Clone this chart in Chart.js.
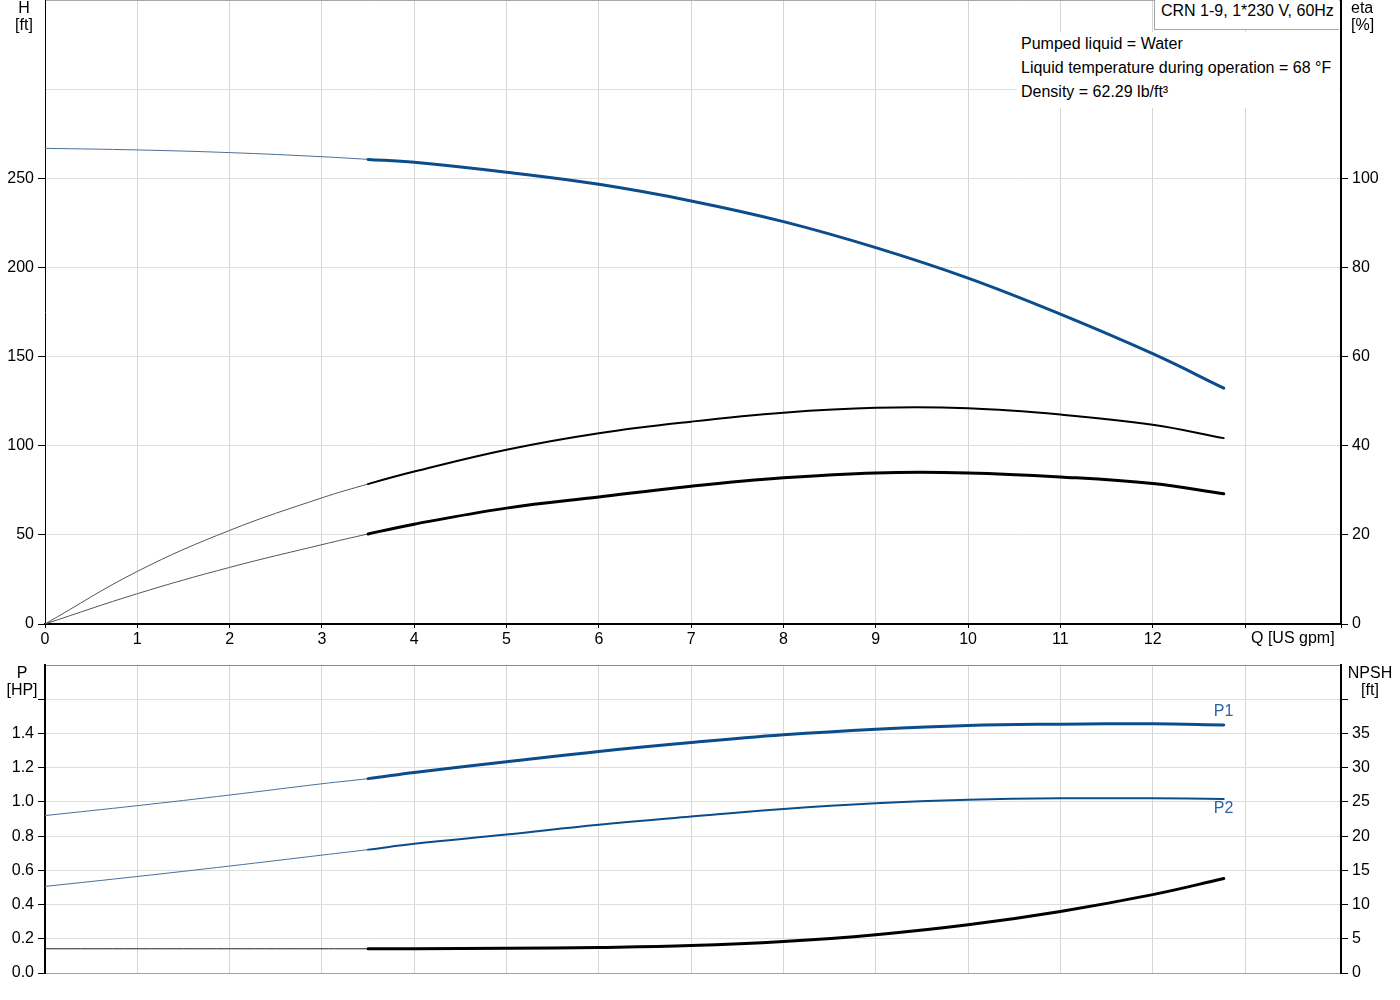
<!DOCTYPE html>
<html>
<head>
<meta charset="utf-8">
<script src="https://cdn.jsdelivr.net/npm/chart.js@4.4.1/dist/chart.umd.min.js"></script>
<style>
  html, body { margin: 0; padding: 0; background: #fff; }
  body { width: 1400px; height: 1000px; overflow: hidden; position: relative;
         font-family: "Liberation Sans", Arial, sans-serif; font-size: 16px; color: #000; }
  canvas { position: absolute; left: 0; }
  #topChart { top: 0; }
  #botChart { top: 660px; }
  .lbl { position: absolute; line-height: 17px; white-space: nowrap; }
  #info { position: absolute; left: 1017px; top: 32px; width: 318px; height: 76px;
          background: #fff; padding-left: 4px; line-height: 24px; white-space: nowrap; }
  #title { position: absolute; left: 1154px; top: 0; width: 178px; height: 19px;
           border: 1px solid #a6a6a6; border-top: none; border-right: none; background: #fff;
           padding: 2px 0 8px 6px; line-height: 18px; white-space: nowrap; }
</style>
</head>
<body>
<canvas id="topChart" width="1400" height="660"></canvas>
<canvas id="botChart" width="1400" height="340"></canvas>

<div id="info">Pumped liquid = Water<br>Liquid temperature during operation = 68 °F<br>Density = 62.29 lb/ft³</div>
<div id="title">CRN 1-9, 1*230 V, 60Hz</div>

<div class="lbl" style="left:0;width:48px;top:-1px;text-align:center">H<br>[ft]</div>
<div class="lbl" style="left:1351px;top:-1px">eta<br>[%]</div>
<div class="lbl" style="left:0;width:44px;top:664px;text-align:center">P<br>[HP]</div>
<div class="lbl" style="left:1341px;width:58px;top:664px;text-align:center">NPSH<br>[ft]</div>
<div class="lbl" id="qLabel" style="top:629px">Q [US gpm]</div>
<div class="lbl" id="p1Label" style="color:#2a64a6">P1</div>
<div class="lbl" id="p2Label" style="color:#2a64a6">P2</div>

<script>
// ---------------- data ----------------
const Q          = [0, 1, 2, 3, 3.5, 4, 5, 6, 7, 8, 9, 10, 11, 12, 12.77];      // US gpm
const H          = [266.8, 265.9, 264.4, 262.1, 260.6, 259.0, 253.4, 246.6, 237.3, 225.7, 211.1, 194.0, 173.8, 151.6, 132.3]; // ft
const ETA_PUMP   = [0, 11.8, 21.0, 28.3, 31.4, 34.2, 39.1, 42.8, 45.4, 47.4, 48.5, 48.4, 47.0, 44.7, 41.7];   // %
const ETA_TOTAL  = [0, 6.8, 12.7, 17.8, 20.2, 22.4, 26.0, 28.5, 30.9, 32.8, 33.9, 33.9, 33.0, 31.5, 29.2];    // %
const P1         = [0.920, 0.978, 1.040, 1.106, 1.136, 1.172, 1.234, 1.295, 1.347, 1.392, 1.425, 1.447, 1.454, 1.456, 1.450]; // HP
const P2         = [0.506, 0.564, 0.625, 0.689, 0.721, 0.755, 0.809, 0.866, 0.914, 0.959, 0.992, 1.012, 1.021, 1.021, 1.017]; // HP
const NPSH       = [3.54, 3.54, 3.54, 3.54, 3.54, 3.55, 3.60, 3.73, 4.00, 4.60, 5.60, 7.05, 9.00, 11.45, 13.80]; // ft
const DUTY_START = 3.5;   // curves are drawn thick from here on

const Q_MAX = 14.04, Q_LABEL_MAX = 12, Q_TITLE_TICK = 13;
const H_MAX = 350, H_STEP = 50, H_LABEL_MAX = 250;
const ETA_MAX = 140, ETA_STEP = 20, ETA_LABEL_MAX = 100;
const P_MAX = 1.8, P_STEP = 0.2, P_LABEL_MAX = 1.4, P_TICK_MAX = 1.6;
const N_MAX = 45, N_STEP = 5, N_LABEL_MAX = 35, N_TICK_MAX = 40;

// ---------------- helpers ----------------
const FONT = { family: '"Liberation Sans", Arial, sans-serif', size: 16 };
Chart.defaults.font.family = FONT.family;
Chart.defaults.font.size = FONT.size;
Chart.defaults.color = '#000';

const BLUE = '#0b4d8c';
const GRID_V = '#d6d6d6';
const GRID_H = '#dedede';
const EPS = 1e-6;

function curve(values, axis, thinColor, thickColor, thickWidth) {
  const inDuty = c => c.p0.parsed.x >= DUTY_START - EPS;
  return [{
    yAxisID: axis, pointRadius: 0, tension: 0.4, fill: false,
    borderCapStyle: 'round', borderJoinStyle: 'round',
    data: Q.map((q, i) => ({ x: q, y: values[i] })),
    borderColor: thickColor, borderWidth: thickWidth,
    segment: {
      borderWidth: c => inDuty(c) ? thickWidth : 1,
      borderColor: c => inDuty(c) ? thickColor : thinColor
    }
  }];
}
function fixSize(prop, size) {
  return s => { s[prop] = size; s.paddingTop = 0; s.paddingBottom = 0; s.paddingLeft = 0; s.paddingRight = 0; };
}
const common = {
  responsive: false, devicePixelRatio: 1, animation: false, events: [],
  plugins: { legend: { display: false }, tooltip: { enabled: false } },
};

// ---------------- top chart: H and eta ----------------
const topChart = new Chart(document.getElementById('topChart'), {
  type: 'line',
  data: {
    datasets: [
      ...curve(H, 'yH', '#4a6f9a', BLUE, 3),
      ...curve(ETA_PUMP, 'yEta', '#555', '#000', 2),
      ...curve(ETA_TOTAL, 'yEta', '#555', '#000', 3),
    ]
  },
  options: Object.assign({}, common, {
    layout: { padding: { top: 0, left: 0, right: 0, bottom: 0 } },
    scales: {
      x: {
        type: 'linear', position: 'bottom', min: 0, max: Q_MAX,
        ticks: { stepSize: 1, autoSkip: false, maxRotation: 0, minRotation: 0, padding: 2, color: '#000',
                 callback: v => (Math.abs(v - Math.round(v)) < EPS && v <= Q_LABEL_MAX) ? String(Math.round(v)) : '' },
        grid: { color: c => (c.tick && c.tick.value === 0) ? 'rgba(0,0,0,0)' : GRID_V,
                tickColor: '#000', tickLength: 4, drawTicks: true },
        border: { color: '#000', width: 2 },
        afterFit: fixSize('height', 36)
      },
      yH: {
        type: 'linear', position: 'left', min: 0, max: H_MAX,
        ticks: { stepSize: H_STEP, padding: 4, color: '#000',
                 callback: v => v <= H_LABEL_MAX + EPS ? String(v) : '' },
        grid: { color: c => (c.tick && c.tick.value >= H_MAX - EPS) ? '#a8a8a8' : GRID_H,
                tickColor: c => (c.tick && c.tick.value <= H_LABEL_MAX + EPS) ? '#000' : 'rgba(0,0,0,0)',
                tickLength: 7 },
        border: { color: '#000', width: 1 },
        afterFit: fixSize('width', 45)
      },
      yEta: {
        type: 'linear', position: 'right', min: 0, max: ETA_MAX,
        ticks: { stepSize: ETA_STEP, padding: 4, color: '#000',
                 callback: v => v <= ETA_LABEL_MAX + EPS ? String(v) : '' },
        grid: { drawOnChartArea: false,
                tickColor: c => (c.tick && c.tick.value <= ETA_LABEL_MAX + EPS) ? '#000' : 'rgba(0,0,0,0)',
                tickLength: 7 },
        border: { color: '#000', width: 2 },
        afterFit: fixSize('width', 59)
      }
    }
  })
});

// ---------------- bottom chart: P1, P2, NPSH ----------------
const botChart = new Chart(document.getElementById('botChart'), {
  type: 'line',
  data: {
    datasets: [
      ...curve(P1, 'yP', '#4a6f9a', BLUE, 3),
      ...curve(P2, 'yP', '#4a6f9a', BLUE, 2),
      ...curve(NPSH, 'yN', '#222', '#000', 3),
    ]
  },
  options: Object.assign({}, common, {
    layout: { padding: { top: 5, left: 0, right: 0, bottom: 0 } },
    scales: {
      x: {
        type: 'linear', position: 'bottom', min: 0, max: Q_MAX,
        ticks: { stepSize: 1, display: false },
        grid: { color: c => (c.tick && c.tick.value === 0) ? 'rgba(0,0,0,0)' : GRID_V, drawTicks: false },
        border: { color: '#a0a0a0', width: 1 },
        afterFit: fixSize('height', 27)
      },
      yP: {
        type: 'linear', position: 'left', min: 0, max: P_MAX,
        ticks: { stepSize: P_STEP, padding: 4, color: '#000',
                 callback: v => v <= P_LABEL_MAX + EPS ? v.toFixed(1) : '' },
        grid: { color: c => (c.tick && c.tick.value >= P_MAX - EPS) ? '#8c8c8c' : GRID_H,
                tickColor: c => (c.tick && c.tick.value <= P_TICK_MAX + EPS) ? '#000' : 'rgba(0,0,0,0)',
                tickLength: 7 },
        border: { color: '#000', width: 2 },
        afterFit: fixSize('width', 45)
      },
      yN: {
        type: 'linear', position: 'right', min: 0, max: N_MAX,
        ticks: { stepSize: N_STEP, padding: 4, color: '#000',
                 callback: v => v <= N_LABEL_MAX + EPS ? String(v) : '' },
        grid: { drawOnChartArea: false,
                tickColor: c => (c.tick && c.tick.value <= N_TICK_MAX + EPS) ? '#000' : 'rgba(0,0,0,0)',
                tickLength: 7 },
        border: { color: '#000', width: 2 },
        afterFit: fixSize('width', 59)
      }
    }
  })
});

// ---------------- labels placed from the scales ----------------
(function placeLabels() {
  const xt = topChart.scales.x;
  const q = document.getElementById('qLabel');
  q.style.left = (xt.getPixelForValue(Q_TITLE_TICK) + 6) + 'px';

  const xb = botChart.scales.x, yp = botChart.scales.yP;
  const last = Q.length - 1;
  const px = xb.getPixelForValue(Q[last]);
  const botTop = 660;
  const l1 = document.getElementById('p1Label');
  const l2 = document.getElementById('p2Label');
  l1.style.left = (px - 10) + 'px';
  l1.style.top = (botTop + yp.getPixelForValue(P1[last]) - 23) + 'px';
  l2.style.left = (px - 10) + 'px';
  l2.style.top = (botTop + yp.getPixelForValue(P2[last]) + 0) + 'px';
})();
</script>
</body>
</html>
